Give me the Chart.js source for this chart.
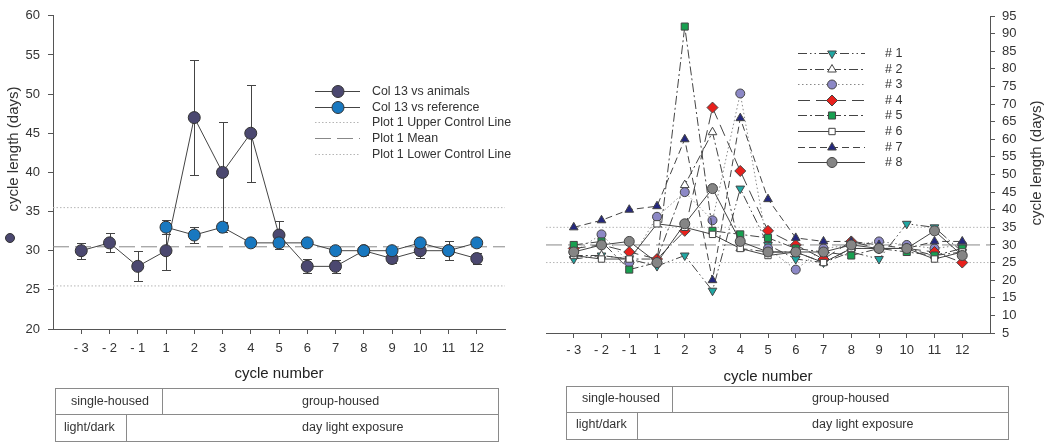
<!DOCTYPE html>
<html><head><meta charset="utf-8">
<script src="https://cdn.jsdelivr.net/npm/chart.js@4.4.0/dist/chart.umd.min.js"></script>
<style>
body{margin:0;background:#fff;width:1050px;height:448px;overflow:hidden;position:relative;font-family:"Liberation Sans",Arial,sans-serif;}
#c1{position:absolute;left:0;top:0;}
#c2{position:absolute;left:520px;top:0;}
.box{position:absolute;border:1px solid #8a8a8a;box-sizing:border-box;}
.ln{position:absolute;background:#8a8a8a;}
.tx{position:absolute;font-size:12.5px;color:#333;white-space:nowrap;line-height:14px;}
.dot{position:absolute;left:5px;top:233px;width:10px;height:10px;border-radius:50%;background:#4b4870;box-sizing:border-box;border:1px solid #333;}
</style></head>
<body>
<canvas id="c1" width="520" height="390"></canvas>
<canvas id="c2" width="530" height="390"></canvas>
<div class="dot"></div>

<div class="box" style="left:55px;top:388px;width:444px;height:54px;"></div>
<div class="ln" style="left:55px;top:414px;width:444px;height:1px;"></div>
<div class="ln" style="left:162px;top:388px;width:1px;height:27px;"></div>
<div class="ln" style="left:126px;top:414px;width:1px;height:28px;"></div>
<div class="tx" style="left:71px;top:394px;">single-housed</div>
<div class="tx" style="left:302px;top:394px;">group-housed</div>
<div class="tx" style="left:64px;top:420px;">light/dark</div>
<div class="tx" style="left:302px;top:420px;">day light exposure</div>

<div class="box" style="left:566px;top:386px;width:443px;height:54px;"></div>
<div class="ln" style="left:566px;top:412px;width:443px;height:1px;"></div>
<div class="ln" style="left:672px;top:386px;width:1px;height:27px;"></div>
<div class="ln" style="left:637px;top:412px;width:1px;height:28px;"></div>
<div class="tx" style="left:582px;top:391px;">single-housed</div>
<div class="tx" style="left:812px;top:391px;">group-housed</div>
<div class="tx" style="left:576px;top:417px;">light/dark</div>
<div class="tx" style="left:812px;top:417px;">day light exposure</div>

<script>
// ---------- data ----------
const cycles = ['- 3','- 2','- 1','1','2','3','4','5','6','7','8','9','10','11','12'];

// left panel
const animalsMean   = [30, 31, 28, 30, 47, 40, 45, 32, 28, 28, 30, 29, 30, 30, 29];
const animalsErr    = [1.0, 1.2, 1.9, 2.5, 7.3, 6.5, 6.2, 1.8, 0.9, 0.8, 0.5, 0.6, 0.9, 1.2, 0.7];
const referenceMean = [null, null, null, 33, 32, 33, 31, 31, 31, 30, 30, 30, 31, 30, 31];
const referenceErr  = [null, null, null, 0.9, 1.0, 0.65, 0.4, 0.8, 0.4, 0.4, 0.5, 0.4, 0.4, 0.4, 0.4];
const leftUpper = 35.5, leftMean = 30.5, leftLower = 25.5;
const leftLabels = ['Col 13 vs animals','Col 13 vs reference','Plot 1 Upper Control Line','Plot 1 Mean','Plot 1 Lower Control Line'];

// right panel (individual animals)
const animal1 = [26, 27, 26, 24, 27, 17, 46, 30, 26, 25, 28, 26, 36, 35, 28];
const animal2 = [27, 27, 26, 26, 47, 62, 29, 28, 28, 25, 29, 29, 29, 27, 28];
const animal3 = [28, 33, 25, 38, 45, 37, 73, 29, 23, 29, 30, 31, 30, 29, 30];
const animal4 = [29, 30, 28, 26, 34, 69, 51, 34, 30, 26, 31, 29, 29, 28, 25];
const animal5 = [30, 31, 23, 25, 92, 34, 33, 32, 29, 28, 27, 29, 28, 27, 29];
const animal6 = [27, 26, 26, 36, 35, 33, 29, 27, 28, 25, 29, 29, 29, 26, 28];
const animal7 = [35, 37, 40, 41, 60, 20, 66, 43, 32, 31, 31, 30, 29, 31, 31];
const animal8 = [28, 30, 31, 25, 36, 46, 31, 28, 28, 28, 30, 29, 29, 34, 27];
const rightLabels = ['# 1','# 2','# 3','# 4','# 5','# 6','# 7','# 8'];
const rightUpper = 35, rightMean = 30, rightLower = 25;

// ---------- helpers ----------
const FONT = '"Liberation Sans", Arial, sans-serif';
const toPts = arr => arr.map((v, i) => ({x: i, y: v}));
const hLine = v => [{x: -1, y: v}, {x: cycles.length, y: v}];

const errorBars = {
  id: 'errorBars',
  beforeDatasetsDraw(chart, args, o) {
    if (!o.sets) return;
    const ctx = chart.ctx, xs = chart.scales.x, ys = chart.scales.y;
    ctx.save();
    ctx.strokeStyle = o.color; ctx.lineWidth = 1;
    o.sets.forEach(set => {
      set.mean.forEach((m, i) => {
        if (m == null) return;
        const e = set.err[i];
        const px = Math.round(xs.getPixelForValue(i)) + 0.5;
        const t = Math.round(ys.getPixelForValue(m + e)) + 0.5;
        const b = Math.round(ys.getPixelForValue(m - e)) + 0.5;
        ctx.beginPath();
        ctx.moveTo(px, t); ctx.lineTo(px, b);
        ctx.moveTo(px - o.cap, t); ctx.lineTo(px + o.cap, t);
        ctx.moveTo(px - o.cap, b); ctx.lineTo(px + o.cap, b);
        ctx.stroke();
      });
    });
    ctx.restore();
  }
};

const customLegend = {
  id: 'customLegend',
  afterDraw(chart, args, o) {
    if (!o.items) return;
    const ctx = chart.ctx;
    o.items.forEach((idx, row) => {
      const ds = chart.data.datasets[idx];
      const y = Math.round(o.y + row * o.rowHeight) + 0.5;
      ctx.save();
      ctx.strokeStyle = ds.borderColor; ctx.lineWidth = ds.borderWidth || 1;
      ctx.setLineDash(ds.borderDash || []);
      ctx.beginPath(); ctx.moveTo(o.x0, y); ctx.lineTo(o.x1, y); ctx.stroke();
      ctx.setLineDash([]);
      if (ds.pointRadius > 0) {
        ctx.fillStyle = ds.pointBackgroundColor;
        ctx.strokeStyle = ds.pointBorderColor;
        ctx.lineWidth = ds.pointBorderWidth;
        Chart.helpers.drawPoint(ctx, {pointStyle: ds.pointStyle, rotation: ds.pointRotation || 0,
          radius: ds.pointRadius, borderWidth: ds.pointBorderWidth}, o.xm, y);
      }
      ctx.fillStyle = o.color; ctx.font = o.font; ctx.textBaseline = 'middle'; ctx.textAlign = 'left';
      ctx.fillText(ds.label, o.xt, y);
      ctx.restore();
    });
  }
};

const extraText = {
  id: 'extraText',
  afterDraw(chart, args, o) {
    if (!o.items) return;
    const ctx = chart.ctx;
    o.items.forEach(t => {
      ctx.save();
      ctx.translate(t.x, t.y); ctx.rotate(t.rot || 0);
      ctx.font = t.font; ctx.fillStyle = t.color;
      ctx.textAlign = 'center'; ctx.textBaseline = 'middle';
      ctx.fillText(t.text, 0, 0);
      ctx.restore();
    });
  }
};

const axisColor = '#555';
const tickFont = {family: FONT, size: 13};
const tickColor = '#333';

function xScale(height, pad, titlePad) {
  return {
    type: 'linear', min: -1, max: cycles.length,
    afterBuildTicks: s => { s.ticks = cycles.map((c, i) => ({value: i})); },
    ticks: {autoSkip: false, maxRotation: 0, font: tickFont, color: tickColor, padding: pad,
            callback: v => cycles[v] !== undefined ? cycles[v] : ''},
    grid: {drawOnChartArea: false, drawTicks: true, tickLength: 5, color: axisColor},
    border: {color: axisColor},
    title: {display: true, text: 'cycle number', font: {family: FONT, size: 15}, color: '#222',
            padding: {top: 0, bottom: titlePad}},
    afterFit: s => { s.height = height; }
  };
}

// ---------- left chart ----------
const purple = '#4b4870', blue = '#1878c0', lineCol = '#444';
new Chart(document.getElementById('c1'), {
  type: 'line',
  data: {
    datasets: [
      {label: leftLabels[0], data: toPts(animalsMean), borderColor: lineCol, borderWidth: 1,
       pointRadius: 6, pointStyle: 'circle', pointBackgroundColor: purple, pointBorderColor: '#333', pointBorderWidth: 1, order: 2},
      {label: leftLabels[1], data: toPts(referenceMean), borderColor: lineCol, borderWidth: 1,
       pointRadius: 6, pointStyle: 'circle', pointBackgroundColor: blue, pointBorderColor: '#333', pointBorderWidth: 1, order: 1},
      {label: leftLabels[2], data: hLine(leftUpper), borderColor: '#b5b5b5', borderWidth: 1, borderDash: [1.5, 2],
       pointRadius: 0, order: 10},
      {label: leftLabels[3], data: hLine(leftMean), borderColor: '#888', borderWidth: 1, borderDash: [16, 6],
       pointRadius: 0, order: 10},
      {label: leftLabels[4], data: hLine(leftLower), borderColor: '#b5b5b5', borderWidth: 1, borderDash: [1.5, 2],
       pointRadius: 0, order: 10}
    ]
  },
  options: {
    responsive: false, animation: false,
    layout: {padding: {top: 14, right: 15, left: 0, bottom: 0}},
    scales: {
      x: xScale(61, 7, 7),
      y: {min: 20, max: 60, ticks: {stepSize: 5, autoSkip: false, font: tickFont, color: tickColor, padding: 8},
          grid: {drawOnChartArea: false, tickLength: 5, color: axisColor}, border: {color: axisColor},
          afterFit: s => { s.width = 53; }}
    },
    plugins: {
      legend: {display: false}, tooltip: {enabled: false},
      errorBars: {color: '#444', cap: 4.5, sets: [{mean: animalsMean, err: animalsErr}, {mean: referenceMean, err: referenceErr}]},
      customLegend: {items: [0, 1, 2, 3, 4], x0: 315, x1: 360, xm: 338, xt: 372, y: 91, rowHeight: 15.7,
                     font: '12.4px ' + FONT, color: '#333'},
      extraText: {items: [{text: 'cycle length (days)', x: 14, y: 149, rot: -Math.PI / 2, font: '15px ' + FONT, color: '#333'}]}
    }
  },
  plugins: [errorBars, customLegend, extraText]
});

// ---------- right chart ----------
const rs = (label, data, dash, lc, style, fill, r, order, rot) => ({
  label, data: toPts(data), borderColor: lc, borderWidth: 1, borderDash: dash,
  pointStyle: style, pointRadius: r, pointRotation: rot || 0, pointBackgroundColor: fill,
  pointBorderColor: '#444', pointBorderWidth: 1, order
});
new Chart(document.getElementById('c2'), {
  type: 'line',
  data: {
    datasets: [
      rs(rightLabels[0], animal1, [9, 3, 1.5, 3, 1.5, 3], '#444', 'triangle', '#1fa7a3', 5, 8, 180),
      rs(rightLabels[1], animal2, [9, 3, 2, 3], '#444', 'triangle', '#ffffff', 5, 7),
      rs(rightLabels[2], animal3, [1.5, 2.5], '#888', 'circle', '#8c88c6', 4.5, 6),
      rs(rightLabels[3], animal4, [12, 6], '#444', 'rectRot', '#e8201c', 5.5, 5),
      rs(rightLabels[4], animal5, [9, 3, 2, 3], '#444', 'rect', '#17a050', 5, 4),
      rs(rightLabels[5], animal6, [], '#444', 'rect', '#ffffff', 4.5, 3),
      rs(rightLabels[6], animal7, [7, 4], '#444', 'triangle', '#24287e', 5, 2),
      rs(rightLabels[7], animal8, [], '#444', 'circle', '#858585', 5, 1),
      {label: 'upper', data: hLine(rightUpper), borderColor: '#b5b5b5', borderWidth: 1, borderDash: [1.5, 2], pointRadius: 0, order: 20},
      {label: 'mean', data: hLine(rightMean), borderColor: '#888', borderWidth: 1, borderDash: [16, 6], pointRadius: 0, order: 20},
      {label: 'lower', data: hLine(rightLower), borderColor: '#b5b5b5', borderWidth: 1, borderDash: [1.5, 2], pointRadius: 0, order: 20}
    ]
  },
  options: {
    responsive: false, animation: false,
    layout: {padding: {top: 16, right: 0, left: 26, bottom: 0}},
    scales: {
      x: xScale(57, 5, 4),
      y: {position: 'right', min: 5, max: 95,
          ticks: {stepSize: 5, autoSkip: false, font: tickFont, color: tickColor, padding: 7},
          grid: {drawOnChartArea: false, tickLength: 5, color: axisColor}, border: {color: axisColor},
          afterFit: s => { s.width = 60; }}
    },
    plugins: {
      legend: {display: false}, tooltip: {enabled: false},
      customLegend: {items: [0, 1, 2, 3, 4, 5, 6, 7], x0: 278, x1: 345, xm: 312, xt: 365, y: 53, rowHeight: 15.6,
                     font: '12.5px ' + FONT, color: '#333'},
      extraText: {items: [{text: 'cycle length (days)', x: 517, y: 163, rot: -Math.PI / 2, font: '15px ' + FONT, color: '#333'}]}
    }
  },
  plugins: [customLegend, extraText]
});
</script>
</body></html>
